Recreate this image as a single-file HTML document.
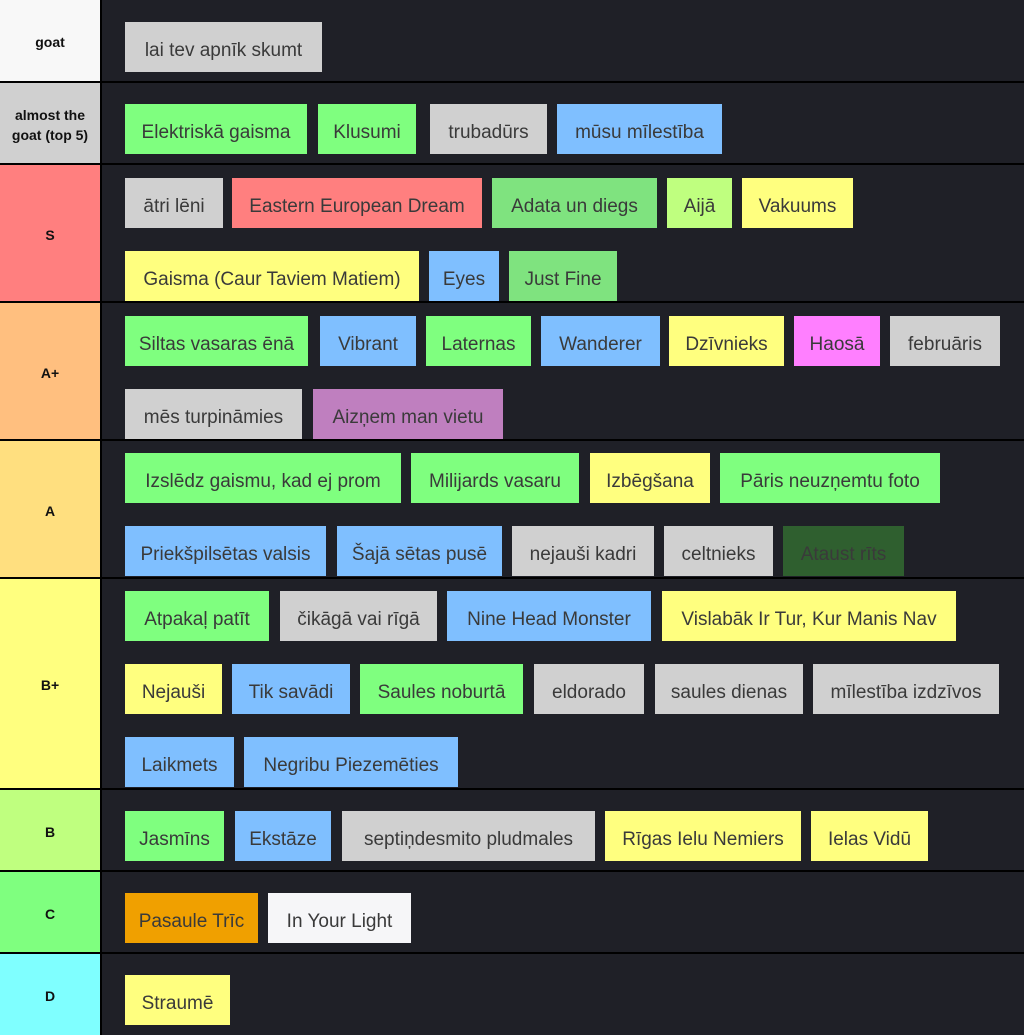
<!DOCTYPE html>
<html><head><meta charset="utf-8"><style>
body{margin:0;width:1024px;height:1035px;background:#000;position:relative;overflow:hidden;font-family:"Liberation Sans","DejaVu Sans",sans-serif}
.l{position:absolute;left:0;width:100px;display:flex;align-items:center;justify-content:center;text-align:center;font-weight:bold;font-size:14px;color:#111;line-height:1.4;padding-top:5px;box-sizing:border-box}
.r{position:absolute;left:102px;right:0;background:#1f2027}
.i{position:absolute;height:50px;display:flex;align-items:center;justify-content:center;font-size:19px;color:#3a3a3a;white-space:nowrap;padding-top:8px;box-sizing:border-box}
.g{background:#d0d0d0}.gr{background:#7fff7f}.b{background:#7fbfff}.rd{background:#ff7f7f}.y{background:#ffff7f}
</style></head><body>
<div class="l" style="top:0;height:81px;background:#f8f8f8">goat</div><div class="r" style="top:0;height:81px"></div>
<div class="l" style="top:83px;height:80px;background:#d0d0d0">almost the<br>goat (top 5)</div><div class="r" style="top:83px;height:80px"></div>
<div class="l" style="top:165px;height:136px;background:#ff7f7f">S</div><div class="r" style="top:165px;height:136px"></div>
<div class="l" style="top:303px;height:136px;background:#ffbf7f">A+</div><div class="r" style="top:303px;height:136px"></div>
<div class="l" style="top:441px;height:136px;background:#ffdf7f">A</div><div class="r" style="top:441px;height:136px"></div>
<div class="l" style="top:579px;height:209px;background:#ffff7f">B+</div><div class="r" style="top:579px;height:209px"></div>
<div class="l" style="top:790px;height:80px;background:#bfff7f">B</div><div class="r" style="top:790px;height:80px"></div>
<div class="l" style="top:872px;height:80px;background:#7fff7f">C</div><div class="r" style="top:872px;height:80px"></div>
<div class="l" style="top:954px;height:81px;background:#7fffff">D</div><div class="r" style="top:954px;height:81px"></div>

<div class="i g" style="top:22px;left:125px;width:197px">lai tev apnīk skumt</div>

<div class="i gr" style="top:104px;left:125px;width:182px">Elektriskā gaisma</div>
<div class="i gr" style="top:104px;left:318px;width:98px">Klusumi</div>
<div class="i g" style="top:104px;left:430px;width:117px">trubadūrs</div>
<div class="i b" style="top:104px;left:557px;width:165px">mūsu mīlestība</div>

<div class="i g" style="top:178px;left:125px;width:98px">ātri lēni</div>
<div class="i rd" style="top:178px;left:232px;width:250px">Eastern European Dream</div>
<div class="i" style="top:178px;left:492px;width:165px;background:#7fe37f">Adata un diegs</div>
<div class="i" style="top:178px;left:667px;width:65px;background:#bfff7f">Aijā</div>
<div class="i y" style="top:178px;left:742px;width:111px">Vakuums</div>
<div class="i y" style="top:251px;left:125px;width:294px">Gaisma (Caur Taviem Matiem)</div>
<div class="i b" style="top:251px;left:429px;width:70px">Eyes</div>
<div class="i" style="top:251px;left:509px;width:108px;background:#7fe37f">Just Fine</div>

<div class="i gr" style="top:316px;left:125px;width:183px">Siltas vasaras ēnā</div>
<div class="i b" style="top:316px;left:320px;width:96px">Vibrant</div>
<div class="i gr" style="top:316px;left:426px;width:105px">Laternas</div>
<div class="i b" style="top:316px;left:541px;width:119px">Wanderer</div>
<div class="i y" style="top:316px;left:669px;width:115px">Dzīvnieks</div>
<div class="i" style="top:316px;left:794px;width:86px;background:#ff7fff">Haosā</div>
<div class="i g" style="top:316px;left:890px;width:110px">februāris</div>
<div class="i g" style="top:389px;left:125px;width:177px">mēs turpināmies</div>
<div class="i" style="top:389px;left:313px;width:190px;background:#bf7fbf">Aizņem man vietu</div>

<div class="i gr" style="top:453px;left:125px;width:276px">Izslēdz gaismu, kad ej prom</div>
<div class="i gr" style="top:453px;left:411px;width:168px">Milijards vasaru</div>
<div class="i y" style="top:453px;left:590px;width:120px">Izbēgšana</div>
<div class="i gr" style="top:453px;left:720px;width:220px">Pāris neuzņemtu foto</div>
<div class="i b" style="top:526px;left:125px;width:201px">Priekšpilsētas valsis</div>
<div class="i b" style="top:526px;left:337px;width:165px">Šajā sētas pusē</div>
<div class="i g" style="top:526px;left:512px;width:142px">nejauši kadri</div>
<div class="i g" style="top:526px;left:664px;width:109px">celtnieks</div>
<div class="i" style="top:526px;left:783px;width:121px;background:#2f5f2f">Ataust rīts</div>

<div class="i gr" style="top:591px;left:125px;width:144px">Atpakaļ patīt</div>
<div class="i g" style="top:591px;left:280px;width:157px">čikāgā vai rīgā</div>
<div class="i b" style="top:591px;left:447px;width:204px">Nine Head Monster</div>
<div class="i y" style="top:591px;left:662px;width:294px">Vislabāk Ir Tur, Kur Manis Nav</div>
<div class="i y" style="top:664px;left:125px;width:97px">Nejauši</div>
<div class="i b" style="top:664px;left:232px;width:118px">Tik savādi</div>
<div class="i gr" style="top:664px;left:360px;width:163px">Saules noburtā</div>
<div class="i g" style="top:664px;left:534px;width:110px">eldorado</div>
<div class="i g" style="top:664px;left:655px;width:148px">saules dienas</div>
<div class="i g" style="top:664px;left:813px;width:186px">mīlestība izdzīvos</div>
<div class="i b" style="top:737px;left:125px;width:109px">Laikmets</div>
<div class="i b" style="top:737px;left:244px;width:214px">Negribu Piezemēties</div>

<div class="i gr" style="top:811px;left:125px;width:99px">Jasmīns</div>
<div class="i b" style="top:811px;left:235px;width:96px">Ekstāze</div>
<div class="i g" style="top:811px;left:342px;width:253px">septiņdesmito pludmales</div>
<div class="i y" style="top:811px;left:605px;width:196px">Rīgas Ielu Nemiers</div>
<div class="i y" style="top:811px;left:811px;width:117px">Ielas Vidū</div>

<div class="i" style="top:893px;left:125px;width:133px;background:#f0a000">Pasaule Trīc</div>
<div class="i" style="top:893px;left:268px;width:143px;background:#f6f6f8">In Your Light</div>

<div class="i y" style="top:975px;left:125px;width:105px">Straumē</div>
</body></html>
